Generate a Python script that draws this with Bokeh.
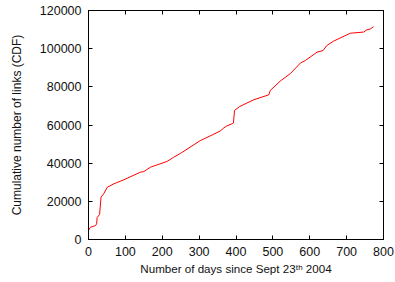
from bokeh.plotting import figure
from bokeh.models import LinearAxis, Range1d, FixedTicker, BasicTickFormatter
from bokeh.embed import file_html
from bokeh.resources import INLINE

days = [0, 5, 19, 22, 23.5, 30, 34, 41, 51, 69, 96, 141, 150, 168, 213, 231, 250, 303,
        357, 367, 374, 391, 393, 396, 410, 448, 484, 489, 493, 520, 547, 575, 588, 620,
        636, 646, 664, 710, 746, 755, 764, 773]
links = [4700, 6400, 7300, 8200, 11500, 13100, 22200, 23900, 27400, 29200, 31300, 35300,
         35600, 37900, 40900, 43100, 45200, 51800, 56800, 58500, 59400, 60800, 61000,
         67600, 69700, 73200, 75500, 75800, 78100, 83000, 86900, 92500, 93800, 98200,
         99000, 101600, 103900, 108100, 108700, 109900, 110300, 111500]
x_ticks = [0, 100, 200, 300, 400, 500, 600, 700, 800]
y_ticks = [0, 20000, 40000, 60000, 80000, 100000, 120000]
x_title = "Number of days since Sept 23\u1d57\u02b0 2004"
y_title = "Cumulative number of links (CDF)"

FONT = "Liberation Sans"
INK = "#111111"

p = figure(width=395, height=282, output_backend="svg", toolbar_location=None,
           x_range=Range1d(0, 800), y_range=Range1d(0, 120000),
           min_border_left=88, min_border_right=12, min_border_top=10, min_border_bottom=43,
           x_axis_location=None, y_axis_location=None)
p.grid.visible = False
p.outline_line_color = "black"
p.background_fill_color = "white"
p.border_fill_color = "white"

p.line(days, links, line_color="#ff0000", line_width=1)

def style_axis(ax, show_labels):
    ax.major_tick_in = 4
    ax.major_tick_out = 0
    ax.minor_tick_line_color = None
    ax.axis_line_color = "black"
    ax.major_tick_line_color = "black"
    ax.formatter = BasicTickFormatter(use_scientific=False)
    ax.major_label_text_font = FONT
    ax.major_label_text_font_size = "12.5px" if show_labels else "0px"
    ax.major_label_text_color = INK if show_labels else None
    ax.axis_label_text_font = FONT
    ax.axis_label_text_font_style = "normal"
    ax.axis_label_text_color = INK

bottom = LinearAxis(ticker=FixedTicker(ticks=x_ticks), axis_label=x_title)
style_axis(bottom, True)
bottom.major_label_standoff = 7
bottom.axis_label_standoff = 3
bottom.axis_label_text_font_size = "11.6px"
p.add_layout(bottom, "below")

left = LinearAxis(ticker=FixedTicker(ticks=y_ticks), axis_label=y_title)
style_axis(left, True)
left.major_label_standoff = 7
left.axis_label_standoff = 13
left.axis_label_text_font_size = "12px"
p.add_layout(left, "left")

top = LinearAxis(ticker=FixedTicker(ticks=x_ticks))
style_axis(top, False)
top.major_label_standoff = 0
p.add_layout(top, "above")

right = LinearAxis(ticker=FixedTicker(ticks=y_ticks))
style_axis(right, False)
right.major_label_standoff = 0
p.add_layout(right, "right")

open("out.html", "w").write(file_html(p, INLINE))
